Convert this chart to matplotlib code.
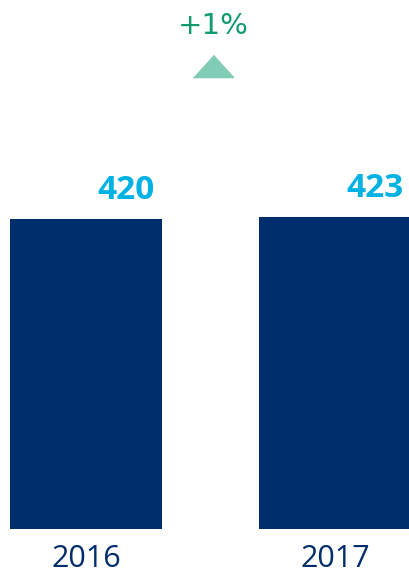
import matplotlib
matplotlib.use("Agg")
import matplotlib.pyplot as plt

# Data
years = ["2016", "2017"]
values = [420, 423]

NAVY = "#002D6B"
CYAN = "#00B2E3"
GREEN = "#139B6D"
MINT = "#80CCB4"

plt.rcParams["font.family"] = ["Open Sans", "DejaVu Sans"]

fig = plt.figure(figsize=(4.09, 5.75), dpi=100)
ax = fig.add_axes([0, 0, 1, 1])

x = list(range(len(years)))
bars = ax.bar(x, values, width=0.61, color=NAVY, zorder=2)

ax.set_xlim(-0.345, 1.297)
ax.set_ylim(-62.3, 716.8)
ax.axis("off")

# Value labels, offset right of bar centre, above bar tops
for xi, v in zip(x, values):
    ax.annotate(f"{v}", xy=(xi + 0.16, v), xytext=(0, 20.5),
                textcoords="offset points", ha="center", va="center",
                fontsize=24, fontweight="bold", color=CYAN)

# Year labels below the bars
for xi, yr in zip(x, years):
    ax.annotate(yr, xy=(xi, 0), xytext=(0, -27.5),
                textcoords="offset points", ha="center", va="baseline",
                fontsize=22, color=NAVY)

# Change indicator between the two bars
pct = (values[1] - values[0]) / values[0] * 100
sign = "+" if pct >= 0 else "-"
mid = (x[0] + x[1]) / 2 + 0.01
tri = [(-1, -0.55), (1, -0.55), (0, 0.55)] if pct >= 0 else [(-1, 0.55), (1, 0.55), (0, -0.55)]
ax.plot([mid], [627], marker=tri, markersize=29, color=MINT, linestyle="none")
ax.text(mid, 681, f"{sign}{abs(round(pct)):.0f}%", ha="center", va="center",
        fontsize=21, color=GREEN, family="DejaVu Sans")

fig.savefig("out.png", dpi=100)
